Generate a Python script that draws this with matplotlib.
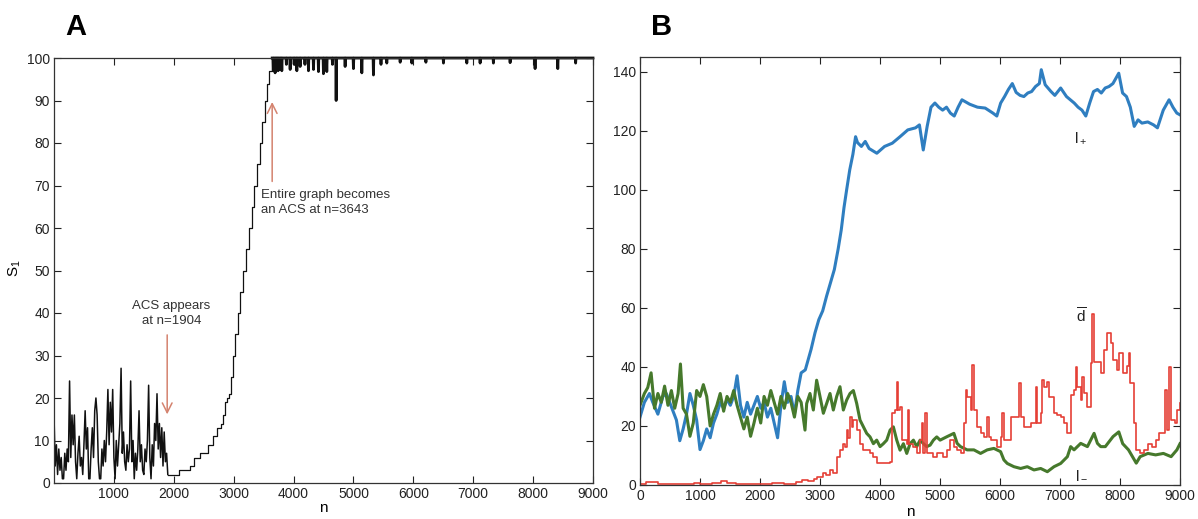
import numpy as np
import matplotlib
matplotlib.use("Agg")
import matplotlib.pyplot as plt

plt.rcParams['font.family'] = ['Liberation Sans', 'DejaVu Sans']

# ---- panel A : size of largest ACS, S1 ----
early_n = np.arange(0, 1901, 20)
early_s = [16, 4, 9, 2, 8, 3, 6, 1, 1, 7,
           3, 8, 5, 24, 6, 16, 9, 16, 5, 1,
           7, 11, 4, 6, 2, 9, 17, 8, 13, 1,
           1, 8, 13, 6, 17, 20, 16, 5, 1, 1,
           8, 4, 10, 5, 12, 22, 9, 19, 12, 22,
           6, 1, 10, 4, 9, 14, 27, 7, 12, 5,
           3, 9, 5, 8, 24, 5, 10, 1, 7, 3,
           8, 17, 5, 9, 3, 2, 8, 5, 10, 23,
           6, 1, 9, 4, 14, 10, 21, 8, 14, 6,
           13, 4, 12, 5, 7, 2]

stair_n = [1904, 2083, 2276, 2340, 2436, 2564, 2660, 2724, 2788, 2820, 2852, 2884, 2917,
           2949, 2981, 3026, 3077, 3109, 3154, 3200, 3256, 3300, 3346, 3390, 3436, 3480,
           3526, 3560, 3590, 3643]
stair_s = [2, 3, 4, 6, 7, 9, 11, 13, 14, 16, 19, 20, 21,
           25, 30, 35, 40, 45, 50, 55, 60, 65, 70, 75, 80, 85,
           90, 94, 97, 100]

# downward excursions from S1 = 100 after n = 3643
spike_n = [3662, 3692, 3720, 3742, 3776, 3804, 3880, 3943, 4010, 4055,
           4110, 4190, 4249, 4333, 4416, 4499, 4555, 4650, 4711, 4861,
           5000, 5140, 5334, 5460, 5557, 5780, 5975, 6210, 6503, 6893,
           7115, 7337, 7616, 8033, 8412, 8710]
spike_s = [97, 96.5, 97.5, 97, 97.3, 97, 98.5, 97.3, 98.5, 97,
           98, 98.5, 97, 97.3, 96.8, 96.3, 96.8, 98.5, 90, 98,
           97.5, 96.5, 96, 98.5, 98.8, 99, 98.8, 99, 98.8, 98.8,
           98.8, 98.8, 98.9, 97.5, 97.5, 98.8]

# ---- panel B : l+, l-, d-bar ----
lp_n = [0, 73, 157, 213, 298, 382, 438, 494, 551, 607, 663, 719, 775, 832, 888, 944, 1000, 1056,
        1112, 1169, 1225, 1281, 1337, 1394, 1450, 1506, 1562, 1618, 1675, 1731, 1787, 1843, 1900,
        1956, 2012, 2068, 2124, 2180, 2237, 2293, 2349, 2405, 2461, 2517, 2574, 2630, 2686, 2755,
        2852, 2916, 2980, 3045, 3110, 3174, 3239, 3303, 3354, 3400, 3444, 3496, 3548, 3593, 3625,
        3690, 3754, 3818, 3947, 4076, 4205, 4334, 4463, 4592, 4657, 4721, 4786, 4850, 4915, 4979,
        5044, 5108, 5173, 5237, 5302, 5366, 5495, 5624, 5753, 5882, 5947, 6011, 6076, 6140, 6205,
        6269, 6334, 6398, 6463, 6527, 6592, 6656, 6688, 6753, 6850, 6914, 7011, 7108, 7172, 7237,
        7301, 7366, 7430, 7495, 7559, 7624, 7688, 7753, 7817, 7882, 7979, 8043, 8108, 8172, 8237,
        8301, 8366, 8463, 8559, 8624, 8721, 8818, 8882, 8947, 9000]
lp_v = [23, 28, 31, 28, 24, 30, 31, 28, 25, 22, 15, 19, 24, 31, 27, 22, 12, 15,
        19, 16, 21, 24, 28, 26, 29, 27, 30, 37, 27, 23, 28, 24, 27,
        30, 26, 28, 23, 26, 21, 16, 27, 35, 28, 30, 24, 32, 38, 39,
        46, 51.5, 56, 59, 64, 68.5, 73, 80, 86.4, 94, 100, 106.8, 112, 118, 116,
        114.7, 116.4, 114, 112.4, 114.7, 115.8, 118, 120.3, 121, 122, 113.5, 121.5, 128, 129.4, 128,
        127, 128, 126, 125, 128, 130.5, 129, 128, 127.7, 126, 125, 129.4, 131.6, 134, 136,
        133, 132, 131.6, 132.8, 133.3, 135, 136, 140.7, 135.6, 133.3, 132, 134.5, 131.6, 130.5, 129.4,
        128, 127, 125, 129.4, 133.3, 134, 132.8, 134.5, 135, 136, 139.5, 132.8, 131.6, 128, 121.5,
        123.7, 122.6, 123, 122, 121, 127, 130.5, 128, 126, 125.4]

lm_n = [0, 73, 129, 185, 242, 298, 354, 410, 466, 523, 579, 635, 674, 719, 775, 832, 888, 944,
        1000, 1056, 1112, 1169, 1225, 1281, 1337, 1394, 1450, 1506, 1562, 1618, 1675, 1731, 1787,
        1843, 1900, 1956, 2012, 2068, 2124, 2180, 2237, 2293, 2349, 2405, 2461, 2517, 2574, 2630,
        2686, 2750, 2778, 2833, 2889, 2944, 3000, 3056, 3111, 3167, 3222, 3278, 3333, 3389, 3445,
        3500, 3556, 3612, 3667, 3723, 3778, 3834, 3890, 3945, 4001, 4056, 4112, 4168, 4223, 4279,
        4334, 4390, 4446, 4501, 4557, 4612, 4668, 4724, 4779, 4835, 4890, 4946, 5002, 5119, 5231,
        5286, 5342, 5453, 5565, 5676, 5787, 5898, 6010, 6065, 6121, 6232, 6344, 6455, 6566, 6678,
        6789, 6900, 7011, 7123, 7178, 7234, 7345, 7457, 7568, 7624, 7679, 7755, 7884, 7980, 8045,
        8142, 8207, 8271, 8336, 8465, 8594, 8723, 8852, 8948, 9000]
lm_v = [27, 31, 33, 38, 26, 31, 28, 33.5, 27, 32, 26, 31, 41, 26, 24, 16.5, 21, 32,
        30, 34, 30, 20, 24, 27, 31, 25, 30, 28, 32, 27, 23, 19, 23,
        16.5, 21, 26, 21, 30, 27, 32, 28, 24, 30, 26, 31, 28, 23, 30,
        28, 18.6, 27.6, 31, 25.4, 35.5, 30, 24.3, 27.6, 31, 25.4, 30, 33.3, 25.4, 28.8,
        31, 32, 27.6, 22, 19.7, 17.5, 16.3, 14, 15.2, 13, 14, 15.2, 18.6, 19.7, 15.2,
        11.8, 14, 10.7, 14, 15.2, 13, 15.2, 14, 13, 13.5, 15.2, 16.3, 15.2, 16.4, 17.5,
        14.1, 13, 11.9, 11.9, 10.7, 11.9, 12.4, 11.3, 8.5, 7.3, 6.2, 5.6, 6.2, 5.1, 5.6,
        4.5, 6.2, 7.3, 9.6, 13, 11.9, 14.1, 13, 17.5, 14.1, 13, 13, 16.4, 18, 14,
        11.9, 9.6, 7.4, 9.6, 10.7, 10.2, 10.7, 9.6, 11.9, 14]

d_n = [0, 100, 300, 500, 700, 900, 1000, 1200, 1350, 1450, 1600, 1800, 2000, 2200, 2400,
       2600, 2700, 2800, 2900, 2944, 3000, 3056, 3100, 3167, 3222, 3278, 3333, 3389, 3420,
       3445, 3470, 3500, 3530, 3556, 3612, 3667, 3723, 3778, 3834, 3890, 3945, 4001, 4112,
       4168, 4195, 4250, 4279, 4300, 4334, 4360, 4446, 4470, 4490, 4557, 4612, 4668, 4695,
       4724, 4750, 4779, 4890, 4946, 5002, 5057, 5113, 5168, 5231, 5286, 5342, 5398, 5425,
       5453, 5509, 5537, 5565, 5620, 5676, 5731, 5787, 5815, 5843, 5954, 6010, 6038, 6065,
       6121, 6177, 6288, 6316, 6344, 6399, 6511, 6594, 6622, 6678, 6705, 6733, 6789, 6817,
       6900, 6956, 7011, 7067, 7123, 7178, 7234, 7262, 7290, 7345, 7373, 7401, 7457, 7512,
       7540, 7568, 7624, 7679, 7735, 7791, 7846, 7884, 7948, 7980, 8045, 8110, 8142, 8174,
       8239, 8271, 8336, 8400, 8465, 8529, 8594, 8658, 8723, 8755, 8787, 8820, 8852, 8916,
       8948, 9000]
d_v = [0.5, 1, 0.3, 0.5, 0.3, 0.8, 0.4, 0.6, 1.2, 0.6, 0.3, 0.5, 0.3, 0.6, 0.5,
       1, 1.8, 1.2, 2, 2.8, 2.8, 3.9, 3.5, 5, 3.9, 9.5, 11.8, 14, 13,
       18.6, 16, 23.1, 19.7, 22, 18.6, 14, 11.8, 11.8, 10.7, 9.5, 7.3, 7.3, 7.3,
       7.9, 24.3, 25.4, 35, 25.4, 26.5, 15.2, 14, 25.4, 14, 13, 10.7, 15.2, 20.9,
       10.7, 24.3, 10.7, 9.5, 10.7, 10.7, 9.5, 11.8, 15.2, 13, 11.9, 10.7, 20.9, 32.2,
       29.9, 25.4, 40.7, 25.4, 19.8, 17.5, 16.4, 23, 16.4, 15.2, 13, 16.4, 24.3, 15.2,
       15.2, 23.1, 23.1, 34.5, 23.1, 19.8, 20.9, 33.3, 20.9, 24.3, 35.6, 33.3, 35, 29.9,
       24.3, 23.7, 23.1, 20.9, 17.5, 30.5, 32.2, 40.1, 33.3, 28.8, 36.7, 31, 26.5, 41.2,
       58, 41.8, 41.8, 37.8, 45.8, 51.4, 48, 42.4, 39, 44.7, 38, 40.2, 44.7, 34.5,
       21, 11.9, 10.7, 11.9, 14, 13, 15.3, 17.5, 17.5, 32.3, 18.7, 40, 22, 21,
       25.5, 27.7]

W, H = 1198, 519
fig = plt.figure(figsize=(W / 100, H / 100), dpi=100)
fig.patch.set_facecolor('white')


def box(l, t, r, b):
    return [l / W, 1 - b / H, (r - l) / W, (b - t) / H]


def style(ax):
    ax.tick_params(direction='in', length=5, width=0.8, top=True, right=True,
                   labelsize=10, pad=3, colors='#222222')
    for s in ax.spines.values():
        s.set_linewidth(0.9)
        s.set_color('#333333')


# panel A
axA = fig.add_axes(box(54, 58, 593, 483))
axA.plot(early_n, early_s, color='#111111', lw=1.1)
axA.plot([early_n[-1], stair_n[0]], [early_s[-1], stair_s[0]], color='#111111', lw=0.9)
axA.step(stair_n, stair_s, where='post', color='#111111', lw=0.9)
late_x, late_y = [3643], [100]
for n, s in zip(spike_n, spike_s):
    late_x += [n - 6, n, n + 6]
    late_y += [100, s, 100]
late_x.append(9000)
late_y.append(100)
axA.plot(late_x, late_y, color='#111111', lw=2.0, clip_on=False)
axA.set_xlim(0, 9000)
axA.set_ylim(0, 100)
axA.set_xticks(range(1000, 9001, 1000))
axA.set_yticks(range(0, 101, 10))
style(axA)

arrow_kw = dict(arrowstyle='->,head_length=0.7,head_width=0.35', color='#d4836f', lw=1.1)
axA.annotate('', xy=(1890, 15.5), xytext=(1890, 35.5), arrowprops=arrow_kw)
axA.text(1960, 39.8, 'ACS appears\nat n=1904', ha='center', va='center',
         fontsize=9.5, color='#333333', linespacing=1.35)
axA.annotate('', xy=(3643, 90.3), xytext=(3643, 70.3), arrowprops=arrow_kw)
axA.text(3450, 66, 'Entire graph becomes\nan ACS at n=3643', ha='left', va='center',
         fontsize=9.5, color='#333333', linespacing=1.35)

# panel B
axB = fig.add_axes(box(640, 57, 1180, 485))
axB.plot(lp_n, lp_v, color='#2f7ec0', lw=2.2)
axB.plot(lm_n, lm_v, color='#46792c', lw=2.2)
axB.plot(d_n, d_v, color='#e53f36', lw=1.2, drawstyle='steps-post')
axB.set_xlim(0, 9000)
axB.set_ylim(0, 145)
axB.set_xticks(range(0, 9001, 1000))
axB.set_yticks(range(0, 141, 20))
style(axB)
axB.text(7350, 117.5, r'$\mathregular{l_+}$', fontsize=11, ha='center', va='center', color='#222222')
axB.text(7350, 57, r'$\overline{\mathregular{d}}$', fontsize=11, ha='center', va='center', color='#222222')
axB.text(7360, 3.5, r'$\mathregular{l_-}$', fontsize=11, ha='center', va='center', color='#222222')

# labels
fig.text(76 / W, 1 - 27 / H, 'A', fontsize=21, weight='bold', ha='center', va='center')
fig.text(662 / W, 1 - 27 / H, 'B', fontsize=21, weight='bold', ha='center', va='center')
fig.text(15 / W, 1 - 268 / H, r'$\mathregular{S_1}$', rotation=90, fontsize=11,
         ha='center', va='center')
fig.text(323 / W, 1 - 508 / H, 'n', fontsize=11, ha='center', va='center')
fig.text(910 / W, 1 - 512 / H, 'n', fontsize=11, ha='center', va='center')

fig.savefig('out.png', dpi=100, facecolor='white')
